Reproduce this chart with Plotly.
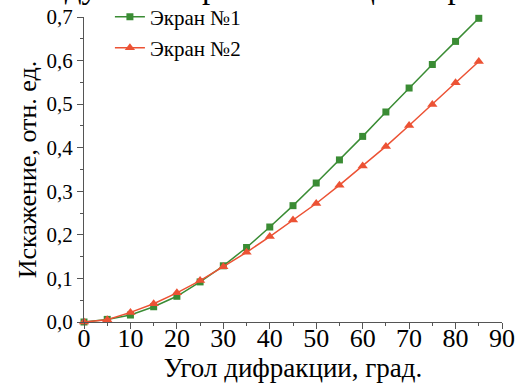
import plotly.graph_objects as go

angles = [0, 5, 10, 15, 20, 25, 30, 35, 40, 45, 50, 55, 60, 65, 70, 75, 80, 85]
screen1 = [0.0, 0.006, 0.016, 0.035, 0.059, 0.092, 0.129, 0.171, 0.218, 0.267, 0.319, 0.372, 0.426, 0.482, 0.537, 0.591, 0.644, 0.697]
screen2 = [0.0, 0.005, 0.022, 0.042, 0.067, 0.095, 0.127, 0.160, 0.196, 0.234, 0.272, 0.314, 0.358, 0.403, 0.451, 0.499, 0.549, 0.598]
names = ["Экран №1", "Экран №2"]
x_title = "Угол дифракции, град."
y_title = "Искажение, отн. ед."
top_text = "исследуемыми рассеивающих экранов"

FONT = "'Liberation Serif', 'Times New Roman', 'DejaVu Serif', serif"
green = "rgb(58,140,52)"
red = "rgb(236,82,52)"

fig = go.Figure()
fig.add_trace(go.Scatter(x=angles, y=screen1, name=names[0], mode="lines+markers",
                         line=dict(color=green, width=1.5),
                         marker=dict(symbol="square", size=7, color=green),
                         cliponaxis=False, legend="legend"))
fig.add_trace(go.Scatter(x=angles, y=screen2, name=names[1], mode="lines+markers",
                         line=dict(color=red, width=1.5),
                         marker=dict(symbol="triangle-up", size=9, color=red),
                         cliponaxis=False, legend="legend2"))

axis_common = dict(showline=True, linecolor="#555", linewidth=1, ticks="outside",
                   ticklen=6, tickcolor="#555", showgrid=False, zeroline=False)

fig.update_xaxes(range=[0, 90], tickvals=list(range(0, 91, 10)),
                 tickfont=dict(family=FONT, size=26, color="black"),
                 ticklabelstandoff=-13,
                 minor=dict(ticks="outside", ticklen=3, tickcolor="#555", dtick=5, tick0=0),
                 title=dict(text=x_title, font=dict(family=FONT, size=27, color="black"), standoff=0),
                 **axis_common)
fig.update_yaxes(range=[0, 0.7], tickvals=[i / 10 for i in range(8)], tickformat=".1f",
                 tickfont=dict(family=FONT, size=21, color="black"),
                 minor=dict(ticks="outside", ticklen=3, tickcolor="#555", dtick=0.05, tick0=0),
                 title=dict(text=y_title, font=dict(family=FONT, size=26, color="black"), standoff=2),
                 **axis_common)

fig.add_annotation(text=top_text, xref="paper", yref="paper", x=0.416, y=1.033,
                   xanchor="center", yanchor="bottom", showarrow=False,
                   font=dict(family=FONT, size=33, color="black"))

leg_common = dict(xanchor="left", yanchor="middle", bgcolor="rgba(0,0,0,0)",
                  itemwidth=30, font=dict(family=FONT, size=21, color="black"))

fig.update_layout(
    width=520, height=385,
    margin=dict(l=84, r=18, t=17, b=63, autoexpand=False),
    paper_bgcolor="white", plot_bgcolor="white",
    separators=", ",
    showlegend=True,
    legend=dict(x=0.062, y=1.0, **leg_common),
    legend2=dict(x=0.062, y=0.898, **leg_common),
    font=dict(family=FONT),
)

fig.write_html("out.html")
